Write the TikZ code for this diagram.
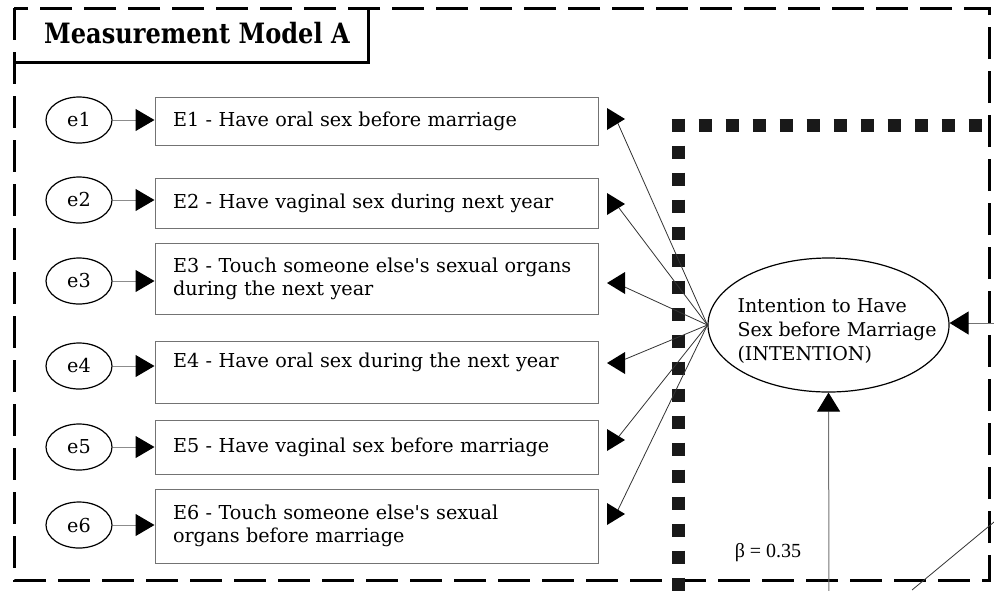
\documentclass[tikz,border=0pt]{standalone}
\usepackage{fontspec}
\setmainfont{DejaVu Serif}
\newfontfamily\itemfont[WordSpace=1.75]{DejaVu Serif}
\newfontfamily\titlefont[FakeStretch=0.86]{DejaVu Serif}
\newfontfamily\betafont{Liberation Serif}
\usetikzlibrary{arrows.meta}
\usetikzlibrary{shapes.geometric}

\tikzset{
  errnode/.style={draw, ellipse, line width=0.6pt, minimum width=33pt, minimum height=23pt, inner sep=0pt, font=\itemfont\fontsize{9.6}{11}\selectfont},
  itembox/.style={draw=black!55, line width=0.5pt, rectangle, text width=203.5pt, inner xsep=9pt, inner ysep=0pt, align=left, font=\itemfont\fontsize{9.6}{11.5}\selectfont},
  errarrow/.style={draw=black!45, line width=0.5pt, -{Triangle[length=9.5pt,width=11pt,black]}},
  inarrow/.style={draw=black!55, line width=0.5pt, -{Triangle[length=9.5pt,width=11.5pt,black]}},
  loadline/.style={draw=black!80, line width=0.4pt},
  outerdash/.style={line width=1.5pt, dash pattern=on 16pt off 6pt},
  dotborder/.style={line width=6.5pt, dash pattern=on 6.5pt off 7pt, black!90},
  tipright/.pic={\fill (-9,-11) -- (9,0) -- (-9,11) -- cycle;},
  tipleft/.pic={\fill (9,-11) -- (-9,0) -- (9,11) -- cycle;}
}

\begin{document}
\begin{tikzpicture}[x=0.5pt, y=-0.5pt]

\useasboundingbox (0,0) rectangle (994,590);
\clip (0,0) rectangle (994,590);

% Draw outer frame and title corner
\draw[outerdash] (14,8) rectangle (989,580);
\draw[line width=1.5pt] (14,62) -- (368,62) -- (368,8);
\node[font=\titlefont\bfseries\fontsize{14}{16}\selectfont] (title) at (197,33) {Measurement Model A};

% Draw the square-dotted frame
\draw[dotborder] (678,118.5) -- (678,610);
\draw[dotborder] (671.5,125) -- (1010,125);

% Error terms
\foreach \k/\y in {1/120, 2/200, 3/281, 4/366, 5/447, 6/525}
  \node[errnode] (e\k) at (79,\y) {e\k};

% Items
\node[itembox, minimum height=24pt] (E1) at (376.5,121) {E1 - Have oral sex before marriage};
\node[itembox, minimum height=25pt] (E2) at (376.5,203) {E2 - Have vaginal sex during next year};
\node[itembox, minimum height=35.5pt] (E3) at (376.5,278.5) {E3 - Touch someone else's sexual organs\\during the next year};
\node[itembox, minimum height=31pt] (E4) at (376.5,372) {E4 - Have oral sex during the next year\\\mbox{}};
\node[itembox, minimum height=27pt] (E5) at (376.5,447) {E5 - Have vaginal sex before marriage};
\node[itembox, minimum height=37pt] (E6) at (376.5,526) {E6 - Touch someone else's sexual\\organs before marriage};

\foreach \k in {1,...,6}
  \draw[errarrow] (e\k.east) -- (e\k.east -| E\k.west);

% Latent variable
\node[draw, ellipse, line width=0.6pt, minimum width=120.5pt, minimum height=67pt] (intention) at (828.5,325) {};
\node[align=left, font=\fontsize{9.5}{12}\selectfont] (intentiontext) at (837,331) {Intention to Have\\Sex before Marriage\\(INTENTION)};

% Loadings with their marks
\coordinate (tE1) at (616,119);
\coordinate (tE2) at (616,204);
\coordinate (tE3) at (616,283);
\coordinate (tE4) at (616,363);
\coordinate (tE5) at (616,440);
\coordinate (tE6) at (616,514);
\foreach \k in {1,...,6}
  \draw[loadline] (intention.west) -- (tE\k);
\pic at (tE1) {tipright};
\pic at (tE2) {tipright};
\pic at (tE3) {tipleft};
\pic at (tE4) {tipleft};
\pic at (tE5) {tipright};
\pic at (tE6) {tipright};

% Paths coming from outside
\coordinate (rightin) at (1000,323);
\coordinate (bottomin) at (829,600);
\draw[inarrow] (rightin) -- (intention.east |- rightin);
\draw[inarrow] (bottomin) -- (intention.south);
\coordinate (cutA) at (912,590);
\coordinate (cutB) at (994,522);
\draw[loadline] (cutA) -- (cutB);

\node[font=\betafont\fontsize{10}{12}\selectfont] (beta) at (768,553) {β = 0.35};

\end{tikzpicture}
\end{document}
